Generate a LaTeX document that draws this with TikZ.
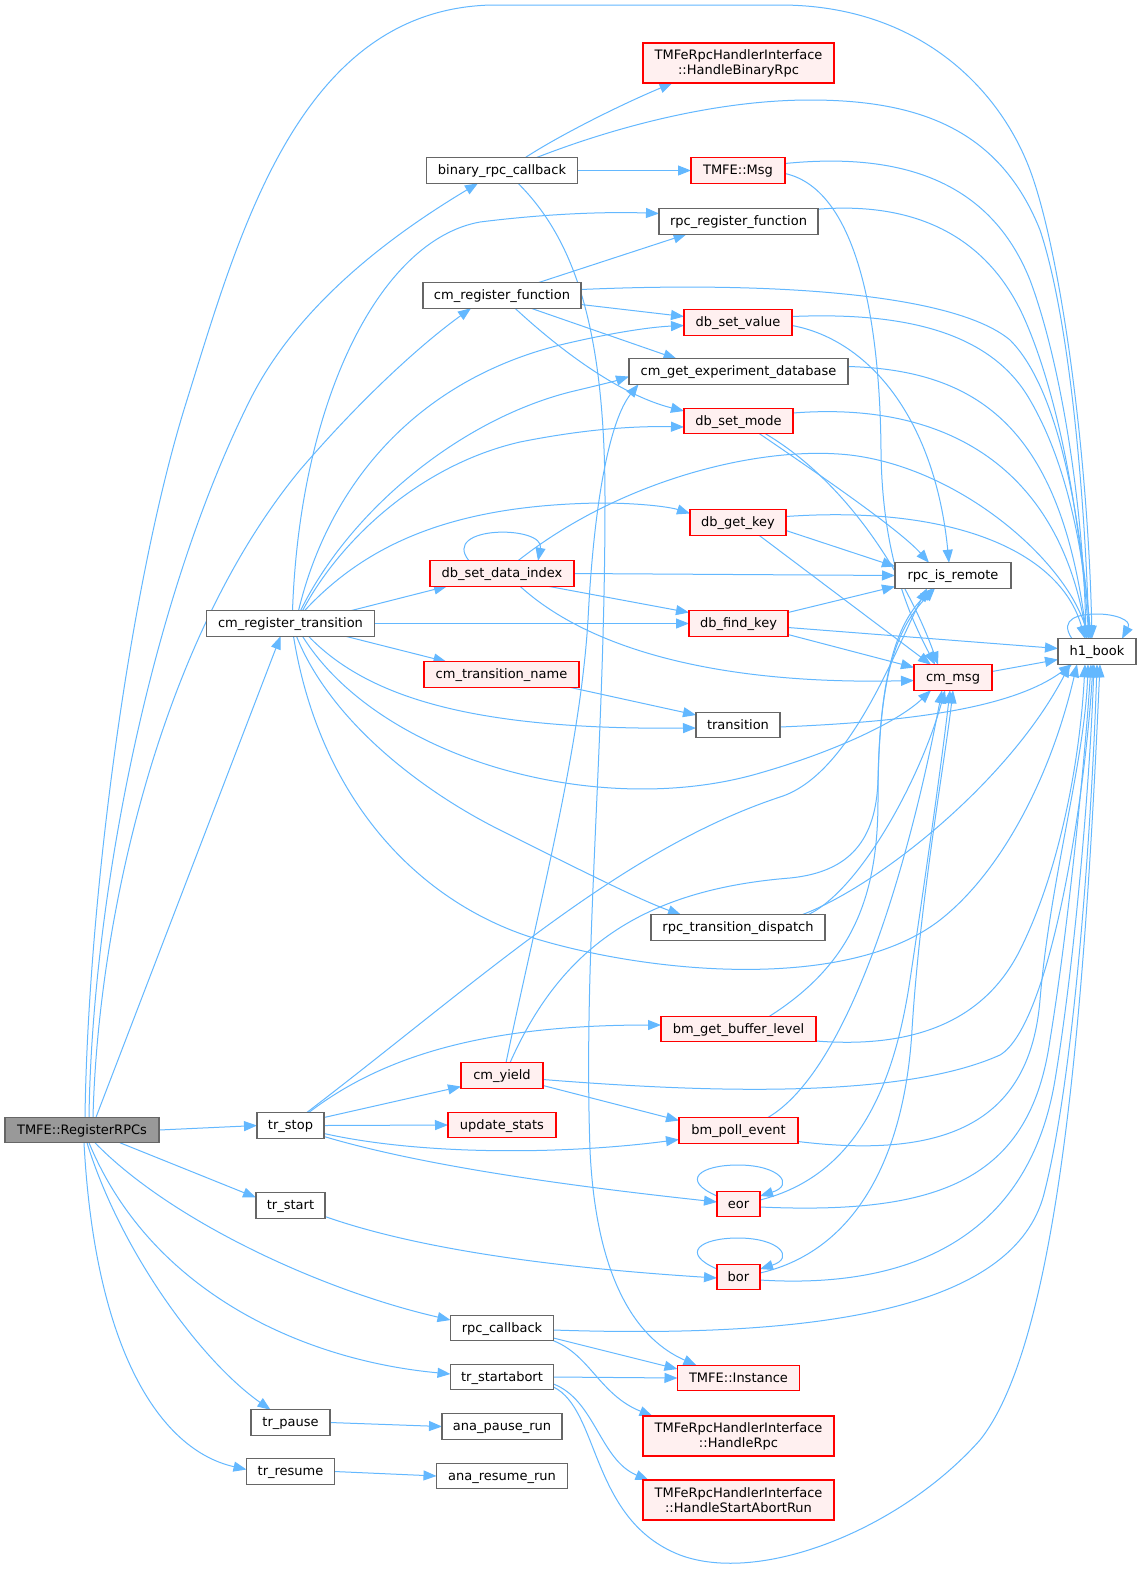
\documentclass[tikz,border=0pt]{standalone}
\usepackage{fontspec}
\setmainfont{DejaVu Sans}
\usetikzlibrary{arrows.meta,calc}
\pgfdeclarelayer{bg}
\pgfdeclarelayer{paper}
\pgfsetlayers{paper,bg,main}
\definecolor{edgec}{HTML}{63B8FF}
\definecolor{nodeb}{HTML}{666666}
\definecolor{redfill}{HTML}{FFF0F0}
\definecolor{rootfill}{HTML}{999999}
\begin{document}
\begin{tikzpicture}[x=1pt,y=-1pt,
  basebox/.style={draw=nodeb, fill=white, line width=1.2pt, inner sep=0pt, outer sep=0pt,
     font=\fontsize{13}{15}\selectfont, text=black},
  nb/.style={basebox, minimum height=25.5pt, text height=9pt, text depth=1pt},
  nr/.style={nb, draw=red, fill=redfill},
  nr2/.style={basebox, draw=red, fill=redfill, minimum height=40pt, align=center},
  root/.style={nb, fill=rootfill},
  edg/.style={draw=edgec, line width=1pt, -{Triangle[length=13pt,width=10pt]}}]
\begin{pgfonlayer}{paper}
\fill[white] (0,0) rectangle (1141,1575);
\end{pgfonlayer}
\useasboundingbox (0,0) rectangle (1141,1575);

% nodes
\node[root, minimum width=154pt] (R) at (82,1130) {TMFE::RegisterRPCs};
\node[nb, minimum width=151pt] (B) at (502,170.5) {binary\_rpc\_callback};
\node[nb, minimum width=158pt] (CRF) at (502,295.5) {cm\_register\_function};
\node[nb, minimum width=168pt] (CRT) at (290.5,623.5) {cm\_register\_transition};
\node[nr, minimum width=144pt] (DSDI) at (502,573.5) {db\_set\_data\_index};
\node[nr, minimum width=155pt] (CTN) at (501.5,674.5) {cm\_transition\_name};
\node[nb, minimum width=67pt] (TS) at (290.5,1125.5) {tr\_stop};
\node[nb, minimum width=69pt] (TST) at (290.5,1205.5) {tr\_start};
\node[nb, minimum width=79pt] (TP) at (290.5,1422.5) {tr\_pause};
\node[nb, minimum width=88pt] (TR) at (290.5,1471.5) {tr\_resume};
\node[nr, minimum width=82pt] (CY) at (502,1075.5) {cm\_yield};
\node[nr, minimum width=108pt] (US) at (502,1125) {update\_stats};
\node[nb, minimum width=103pt] (RC) at (502,1328) {rpc\_callback};
\node[nb, minimum width=103pt] (TSA) at (502,1377) {tr\_startabort};
\node[nb, minimum width=120pt] (APR) at (502,1426.5) {ana\_pause\_run};
\node[nb, minimum width=131pt] (ARR) at (502,1476) {ana\_resume\_run};
\node[nr2, minimum width=191pt] (HBR) at (738.5,63) {TMFeRpcHandlerInterface\\::HandleBinaryRpc};
\node[nr, minimum width=94pt] (MSG) at (738,170.5) {TMFE::Msg};
\node[nb, minimum width=159pt] (RRF) at (738.5,221.5) {rpc\_register\_function};
\node[nr, minimum width=108pt] (DSV) at (738,322.5) {db\_set\_value};
\node[nb, minimum width=219pt] (CGED) at (738.5,371.5) {cm\_get\_experiment\_database};
\node[nr, minimum width=109pt] (DSM) at (738.5,421) {db\_set\_mode};
\node[nr, minimum width=96pt] (DGK) at (738,522.5) {db\_get\_key};
\node[nr, minimum width=99pt] (DFK) at (738.5,623.5) {db\_find\_key};
\node[nb, minimum width=84pt] (TRN) at (738,725) {transition};
\node[nb, minimum width=174pt] (RTD) at (738,927.5) {rpc\_transition\_dispatch};
\node[nr, minimum width=155pt] (BGBL) at (738.5,1029) {bm\_get\_buffer\_level};
\node[nr, minimum width=119pt] (BPE) at (738.5,1130.5) {bm\_poll\_event};
\node[nr, minimum width=43pt] (EOR) at (738.5,1204) {eor};
\node[nr, minimum width=43pt] (BOR) at (738.5,1277) {bor};
\node[nr, minimum width=122pt] (INST) at (738.5,1378) {TMFE::Instance};
\node[nr2, minimum width=191pt] (HR) at (738.5,1436) {TMFeRpcHandlerInterface\\::HandleRpc};
\node[nr2, minimum width=191pt] (HSAR) at (738.5,1500) {TMFeRpcHandlerInterface\\::HandleStartAbortRun};
\node[nb, minimum width=116pt] (RIR) at (953,575.5) {rpc\_is\_remote};
\node[nr, minimum width=78pt] (CM) at (953,677.5) {cm\_msg};
\node[nb, minimum width=78pt] (H1) at (1097,651.5) {h1\_book};

\begin{pgfonlayer}{bg}
% RegisterRPCs
\draw[edg] ($(R.north)+(3,0)$) .. controls (88,900) and (130,580) .. (187,400) .. controls (240,230) and (300,10) .. (491,5) -- (780,5) .. controls (920,5) and (1000,90) .. (1030,170) .. controls (1060,250) and (1088,450) .. ($(H1.north)+(-5,0)$);
\draw[edg] ($(R.north)+(7,0)$) .. controls (92,900) and (150,600) .. (250,400) .. controls (300,300) and (400,230) .. ($(B.south)+(-24,0)$);
\draw[edg] ($(R.north)+(11,0)$) .. controls (98,920) and (160,640) .. (300,470) .. controls (360,400) and (420,345) .. ($(CRF.south)+(-31,0)$);
\draw[edg] ($(R.north)+(14,0)$) -- ($(CRT.south)+(-10,0)$);
\draw[edg] (R.east) -- (TS.west);
\draw[edg] ($(R.south)+(38,0)$) -- ($(TST.west)+(0,-8)$);
\draw[edg] ($(R.south)+(13,0)$) .. controls (170,1220) and (320,1290) .. ($(RC.west)+(0,-8)$);
\draw[edg] ($(R.south)+(7,0)$) .. controls (150,1290) and (300,1360) .. ($(TSA.west)+(0,-3)$);
\draw[edg] ($(R.south)+(5,0)$) .. controls (120,1250) and (200,1360) .. ($(TP.north)+(-20,0)$);
\draw[edg] ($(R.south)+(2,0)$) .. controls (95,1350) and (160,1450) .. ($(TR.west)+(0,-2)$);
% binary_rpc_callback
\draw[edg] ($(B.north)+(23,0)$) .. controls (560,135) and (620,105) .. ($(HBR.south)+(-66,0)$);
\draw[edg] ($(B.north)+(34,0)$) .. controls (620,125) and (720,100) .. (810,100) .. controls (920,100) and (1000,130) .. (1040,230) .. controls (1070,320) and (1085,500) .. ($(H1.north)+(-8,0)$);
\draw[edg] (B.east) -- (MSG.west);
\draw[edg] ($(B.south)+(16,0)$) .. controls (575,240) and (605,330) .. (605,500) .. controls (605,750) and (583,950) .. (590,1150) .. controls (597,1300) and (650,1345) .. ($(INST.north)+(-42,0)$);
% TMFE::Msg
\draw[edg] ($(MSG.east)+(0,-7)$) .. controls (900,152) and (990,180) .. (1030,280) .. controls (1060,360) and (1083,500) .. ($(H1.north)+(-11,0)$);
\draw[edg] ($(MSG.east)+(0,3)$) .. controls (860,190) and (880,330) .. (881,450) .. controls (882,560) and (912,620) .. ($(CM.north)+(-18,0)$);
% rpc_register_function
\draw[edg] ($(RRF.east)+(-4,-12)$) .. controls (920,200) and (990,240) .. (1025,320) .. controls (1060,400) and (1080,520) .. ($(H1.north)+(-8,0)$);
% cm_register_function
\draw[edg] ($(CRF.north)+(36,0)$) -- ($(RRF.south)+(-52,0)$);
\draw[edg] ($(CRF.east)+(0,-6)$) .. controls (750,282) and (950,290) .. (1010,340) .. controls (1060,390) and (1080,520) .. ($(H1.north)+(-6,0)$);
\draw[edg] ($(CRF.east)+(0,9)$) -- ($(DSV.west)+(0,-6)$);
\draw[edg] ($(CRF.south)+(29,0)$) -- ($(CGED.north)+(-62,0)$);
\draw[edg] ($(CRF.south)+(13,0)$) .. controls (560,350) and (620,395) .. ($(DSM.west)+(0,-10)$);
% db_set_value
\draw[edg] ($(DSV.east)+(0,-6)$) .. controls (900,312) and (990,330) .. (1030,400) .. controls (1065,460) and (1082,540) .. ($(H1.north)+(-6,0)$);
\draw[edg] ($(DSV.east)+(0,3)$) .. controls (870,340) and (935,420) .. ($(RIR.north)+(-4,0)$);
% cm_get_experiment_database
\draw[edg] ($(CGED.east)+(0,-5)$) .. controls (980,370) and (1060,430) .. ($(H1.north)+(-10,0)$);
% db_set_mode
\draw[edg] ($(DSM.east)+(0,-8)$) .. controls (960,400) and (1060,480) .. ($(H1.north)+(-10,0)$);
\draw[edg] ($(DSM.south)+(21,0)$) .. controls (820,475) and (900,530) .. ($(RIR.north)+(-24,0)$);
\draw[edg] ($(DSM.south)+(27,0)$) .. controls (860,490) and (915,600) .. ($(CM.north)+(-15,0)$);
% db_get_key
\draw[edg] ($(DGK.east)+(0,-6)$) .. controls (950,505) and (1060,550) .. ($(H1.north)+(-12,0)$);
\draw[edg] ($(DGK.east)+(0,8)$) -- ($(RIR.west)+(0,-9)$);
\draw[edg] ($(DGK.south)+(21,0)$) -- ($(CM.north)+(-22,0)$);
% db_set_data_index
\draw[edg] ($(DSDI.north)+(-33,0)$) .. controls (440,525) and (545,525) .. ($(DSDI.north)+(36,0)$);
\draw[edg] ($(DSDI.north)+(16,0)$) .. controls (620,480) and (760,445) .. (850,455) .. controls (960,468) and (1065,560) .. ($(H1.north)+(-8,0)$);
\draw[edg] (DSDI.east) -- (RIR.west);
\draw[edg] ($(DSDI.south)+(46,0)$) -- ($(DFK.west)+(0,-11)$);
\draw[edg] ($(DSDI.south)+(18,0)$) .. controls (590,650) and (720,685) .. ($(CM.west)+(0,3)$);
% db_find_key
\draw[edg] ($(DFK.east)+(0,-11)$) -- ($(RIR.west)+(0,11)$);
\draw[edg] ($(DFK.east)+(0,4)$) -- ($(H1.west)+(0,-3)$);
\draw[edg] ($(DFK.east)+(0,11)$) -- ($(CM.west)+(0,-10)$);
% cm_msg
\draw[edg] ($(CM.east)+(0,-6)$) -- ($(H1.west)+(0,8)$);
% cm_transition_name, transition
\draw[edg] ($(CTN.south)+(68,0)$) -- ($(TRN.west)+(0,-10)$);
\draw[edg] ($(TRN.east)+(0,2)$) .. controls (900,722) and (1010,710) .. ($(H1.south)+(-25,0)$);
% cm_register_transition
\draw[edg] ($(CRT.north)+(2,0)$) .. controls (300,400) and (380,240) .. (480,222) .. controls (560,212) and (620,212) .. ($(RRF.west)+(0,-8)$);
\draw[edg] ($(CRT.north)+(8,0)$) .. controls (330,480) and (420,380) .. (560,345) .. controls (610,333) and (650,327) .. ($(DSV.west)+(0,3)$);
\draw[edg] ($(CRT.north)+(10,0)$) .. controls (350,510) and (460,420) .. (570,392) .. controls (595,386) and (612,382) .. ($(CGED.west)+(0,5)$);
\draw[edg] ($(CRT.north)+(12,0)$) .. controls (340,540) and (420,465) .. (520,442) .. controls (590,428) and (640,426) .. ($(DSM.west)+(0,6)$);
\draw[edg] ($(CRT.north)+(14,0)$) .. controls (370,540) and (460,505) .. (600,503) .. controls (640,503) and (670,507) .. ($(DGK.west)+(0,-9)$);
\draw[edg] ($(CRT.north)+(60,0)$) -- ($(DSDI.south)+(-55,0)$);
\draw[edg] (CRT.east) -- (DFK.west);
\draw[edg] ($(CRT.south)+(55,0)$) -- ($(CTN.north)+(-55,0)$);
\draw[edg] ($(CRT.south)+(18,0)$) .. controls (370,700) and (480,730) .. ($(TRN.west)+(0,3)$);
\draw[edg] ($(CRT.south)+(12,0)$) .. controls (380,760) and (600,820) .. (760,773) .. controls (840,750) and (900,720) .. ($(CM.south)+(-22,0)$);
\draw[edg] ($(CRT.south)+(6,0)$) .. controls (330,720) and (420,790) .. (500,830) .. controls (580,870) and (640,900) .. ($(RTD.north)+(-57,0)$);
\draw[edg] ($(CRT.south)+(3,0)$) .. controls (320,800) and (420,905) .. (540,940) .. controls (660,975) and (850,990) .. (940,920) .. controls (1000,873) and (1050,780) .. ($(H1.south)+(-20,0)$);
% rpc_transition_dispatch
\draw[edg] ($(RTD.north)+(70,0)$) .. controls (860,890) and (920,780) .. ($(CM.south)+(-8,0)$);
\draw[edg] ($(RTD.north)+(64,0)$) .. controls (880,885) and (1010,780) .. ($(H1.south)+(-27,0)$);
% bm_get_buffer_level
\draw[edg] ($(BGBL.north)+(31,0)$) .. controls (850,965) and (878,900) .. (878,800) .. controls (878,680) and (895,630) .. ($(RIR.south)+(-18,0)$);
\draw[edg] ($(BGBL.east)+(0,12)$) .. controls (930,1050) and (990,1010) .. (1020,950) .. controls (1060,870) and (1080,760) .. ($(H1.south)+(-12,0)$);
% cm_yield
\draw[edg] ($(CY.north)+(4,0)$) .. controls (540,900) and (580,750) .. (588,620) .. controls (594,500) and (610,420) .. ($(CGED.south)+(-100,0)$);
\draw[edg] ($(CY.north)+(8,0)$) .. controls (560,950) and (640,890) .. (790,878) .. controls (850,872) and (876,840) .. (878,780) .. controls (880,680) and (895,625) .. ($(RIR.south)+(-20,0)$);
\draw[edg] ($(CY.east)+(0,4)$) .. controls (700,1092) and (900,1100) .. (1000,1055) .. controls (1050,1025) and (1085,800) .. ($(H1.south)+(-4,0)$);
\draw[edg] ($(CY.east)+(0,10)$) -- ($(BPE.west)+(0,-10)$);
% bm_poll_event
\draw[edg] ($(BPE.north)+(29,0)$) .. controls (850,1070) and (910,860) .. ($(CM.south)+(-11,0)$);
\draw[edg] ($(BPE.east)+(0,11)$) .. controls (950,1160) and (1030,1120) .. (1040,1000) .. controls (1050,880) and (1085,760) .. ($(H1.south)+(-9,0)$);
% eor
\draw[edg] ($(EOR.west)+(0,-8)$) .. controls (680,1180) and (700,1165) .. (738,1165) .. controls (780,1165) and (795,1185) .. ($(EOR.east)+(0,-8)$);
\draw[edg] ($(EOR.east)+(0,-4)$) .. controls (860,1175) and (895,1080) .. (910,980) .. controls (925,880) and (942,760) .. ($(CM.south)+(-3,0)$);
\draw[edg] ($(EOR.east)+(0,3)$) .. controls (940,1215) and (1030,1180) .. (1050,1040) .. controls (1068,930) and (1085,760) .. ($(H1.south)+(-6,0)$);
% bor
\draw[edg] ($(BOR.west)+(0,-8)$) .. controls (680,1253) and (700,1238) .. (738,1238) .. controls (780,1238) and (795,1258) .. ($(BOR.east)+(0,-8)$);
\draw[edg] ($(BOR.east)+(0,-4)$) .. controls (860,1250) and (905,1150) .. (912,1030) .. controls (920,900) and (945,760) .. (CM.south);
\draw[edg] ($(BOR.east)+(0,3)$) .. controls (920,1290) and (1030,1230) .. (1055,1080) .. controls (1075,960) and (1090,780) .. ($(H1.south)+(-3,0)$);
% tr_stop
\draw[edg] ($(TS.east)+(0,-8)$) -- ($(CY.west)+(0,11)$);
\draw[edg] (TS.east) -- (US.west);
\draw[edg] ($(TS.north)+(18,0)$) .. controls (390,1050) and (500,1025) .. ($(BGBL.west)+(0,-4)$);
\draw[edg] ($(TS.east)+(0,8)$) .. controls (420,1155) and (560,1155) .. ($(BPE.west)+(0,9)$);
\draw[edg] ($(TS.east)+(0,11)$) .. controls (420,1165) and (560,1185) .. ($(EOR.west)+(0,-2)$);
\draw[edg] ($(TS.north)+(16,0)$) .. controls (480,980) and (620,850) .. (780,797) .. controls (850,775) and (895,650) .. ($(RIR.south)+(-26,0)$);
% tr_start
\draw[edg] ($(TST.east)+(0,11)$) .. controls (420,1250) and (560,1268) .. ($(BOR.west)+(0,1)$);
% rpc_callback
\draw[edg] ($(RC.east)+(0,2)$) .. controls (850,1340) and (1020,1300) .. (1045,1190) .. controls (1075,1070) and (1092,820) .. (H1.south);
\draw[edg] ($(RC.east)+(0,10)$) -- ($(INST.west)+(0,-9)$);
\draw[edg] (RC.south east) .. controls (590,1355) and (600,1395) .. ($(HR.north)+(-86,0)$);
% tr_startabort
\draw[edg] (TSA.east) -- (INST.west);
\draw[edg] ($(TSA.east)+(0,7)$) .. controls (595,1400) and (600,1460) .. ($(HSAR.north)+(-90,0)$);
\draw[edg] ($(TSA.east)+(0,10)$) .. controls (600,1410) and (590,1520) .. (680,1555) .. controls (760,1585) and (900,1530) .. (980,1440) .. controls (1060,1340) and (1085,1000) .. ($(H1.south)+(3,0)$);
% tr_pause, tr_resume
\draw[edg] (TP.east) -- (APR.west);
\draw[edg] (TR.east) -- (ARR.west);
% h1_book self loop
\draw[edg] ($(H1.north)+(-25,0)$) .. controls (1058,618) and (1080,614) .. (1097,614) .. controls (1115,614) and (1132,620) .. ($(H1.north)+(25,0)$);
\end{pgfonlayer}
\end{tikzpicture}
\end{document}
